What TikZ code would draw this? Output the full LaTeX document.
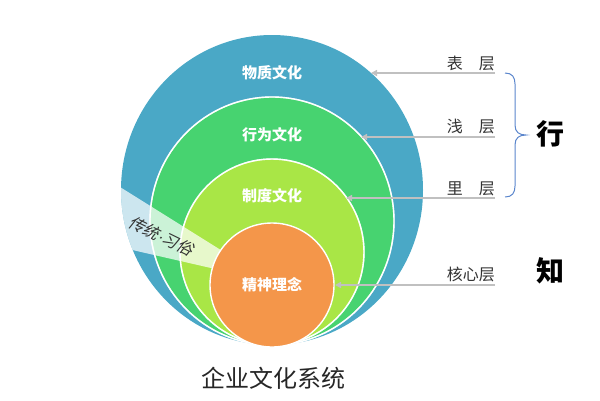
\documentclass[tikz,border=0pt]{standalone}
\usepackage{fontspec}
\newfontfamily\cjk{Noto Sans CJK SC}
\newfontfamily\cjkslant[FakeSlant=0.22]{Noto Sans CJK SC}
\newfontfamily\latslant[FakeSlant=0.22]{Liberation Sans}
\usetikzlibrary{arrows.meta}
\definecolor{cblue}{HTML}{4AA8C6}
\definecolor{cgreen}{HTML}{47D370}
\definecolor{clime}{HTML}{A9E646}
\definecolor{corange}{HTML}{F4964A}
\definecolor{cgray}{HTML}{C0C0C0}
\definecolor{cbrace}{HTML}{5B86CC}
\definecolor{ctext}{HTML}{333333}
\begin{document}
\begin{tikzpicture}[x=1pt,y=-1pt,
  inlab/.style={text=white,font=\cjk\bfseries\fontsize{15}{18}\selectfont,inner sep=0pt},
  sidelab/.style={text=ctext,font=\cjk\fontsize{16}{19}\selectfont,inner sep=0pt,anchor=base east},
  biglab/.style={text=black,font=\cjk\bfseries\fontsize{28}{32}\selectfont,inner sep=0pt},
  arr/.style={draw=cgray,line width=1.6pt,-{Triangle[length=6pt,width=6pt]}},
  ring/.style={draw=white,line width=1.4pt}]
\useasboundingbox (0,0) rectangle (600,400);
% circles
\fill[cblue] (272,190) ellipse [x radius=151, y radius=155];
\filldraw[fill=cgreen,ring] (272,221) ellipse [x radius=122, y radius=124];
\filldraw[fill=clime,ring] (272,252) ellipse [x radius=92, y radius=93];
% band
\begin{scope}
  \clip (272,190) ellipse [x radius=151, y radius=155];
  \fill[white,opacity=0.72] (272,282) -- (80,162) -- (80,238) -- cycle;
\end{scope}
\draw[ring,draw opacity=0.6] (272,221) ellipse [x radius=122, y radius=124];
\draw[ring,draw opacity=0.6] (272,252) ellipse [x radius=92, y radius=93];
\filldraw[fill=corange,ring] (272,285) ellipse [x radius=62, y radius=62];
% inner labels
\node[inlab] (n1) at (272,73) {物质文化};
\node[inlab] (n2) at (272,135) {行为文化};
\node[inlab] (n3) at (272,196) {制度文化};
\node[inlab] (n4) at (272,285) {精神理念};
\node[text=ctext,font=\cjkslant\fontsize{16}{19}\selectfont,rotate=-26,inner sep=0pt] (tr) at (161,236) {传统{\latslant ·}习俗};
% side labels
\node[sidelab] (s1) at (495,69) {表\hspace{1em}层};
\node[sidelab] (s2) at (495,132) {浅\hspace{1em}层};
\node[sidelab] (s3) at (495,194) {里\hspace{1em}层};
\node[sidelab] (s4) at (495,280) {核心层};
\coordinate (a1s) at (495,73);  \coordinate (a1e) at (371,73);
\coordinate (a2s) at (495,137); \coordinate (a2e) at (361,137);
\coordinate (a3s) at (495,198); \coordinate (a3e) at (346,198);
\coordinate (a4s) at (495,285); \coordinate (a4e) at (335,285);
\draw[arr] (a1s) -- (a1e);
\draw[arr] (a2s) -- (a2e);
\draw[arr] (a3s) -- (a3e);
\draw[arr] (a4s) -- (a4e);
% brace
\coordinate (bt) at (505,73);
\coordinate (bb) at (505,197);
\draw[cbrace,line width=1pt] (bt) .. controls (512,73) and (515,77) .. (515,84) -- (515,125)
  .. controls (515,132) and (519,135) .. (526,135)
  .. controls (519,135) and (515,138) .. (515,145) -- (515,186)
  .. controls (515,193) and (512,197) .. (bb);
\node[biglab] (xing) at (550,134) {行};
\node[biglab] (zhi) at (550,271) {知};
% title
\node[text=black!85,font=\cjk\fontsize{24}{28}\selectfont,inner sep=0pt] (title) at (273,378) {企业文化系统};
\end{tikzpicture}
\end{document}
